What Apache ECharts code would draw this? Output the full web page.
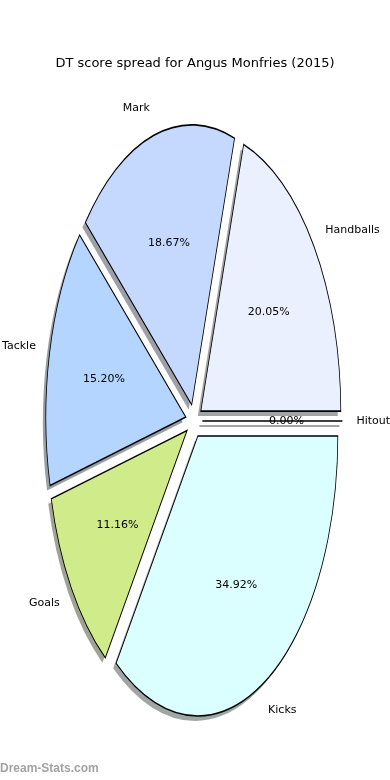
<!DOCTYPE html>
<html>
<head>
<meta charset="utf-8">
<script src="https://cdn.jsdelivr.net/npm/echarts@6/dist/echarts.min.js"></script>
<style>
html,body{margin:0;padding:0;background:#fff;}
#chart{width:390px;height:780px;}
</style>
</head>
<body>
<div id="chart"></div>
<script>
// ---- data ----
const titleText = 'DT score spread for Angus Monfries (2015)';
const categories = ['Handballs', 'Mark', 'Tackle', 'Goals', 'Kicks', 'Hitout'];
const values = [20.05, 18.67, 15.20, 11.16, 34.92, 0.00];
const colors = ['#ebf0ff', '#c5d9ff', '#b3d5ff', '#d0eb8a', '#dbffff', '#f5f5f5'];
const watermark = 'Dream-Stats.com';

// ---- layout ----
const CX = 194, CY = 421, RX = 140, RY = 280;
const EXPLODE = 0.06, LABEL_DIST = 1.1, PCT_DIST = 0.6;
const SHADOW_DX = -3, SHADOW_DY = 5;
const FONT = '11px "DejaVu Sans"';

const total = values.reduce((a, b) => a + b, 0);
function angles(i) {
  let before = 0;
  for (let k = 0; k < i; k++) before += values[k];
  const a1 = before / total * Math.PI * 2;
  const a2 = (before + values[i]) / total * Math.PI * 2;
  return [a1, a2, (a1 + a2) / 2];
}
function hexToRgb(h) {
  const n = parseInt(h.slice(1), 16);
  return [(n >> 16) & 255, (n >> 8) & 255, n & 255];
}
function shadowColor(h) {
  const c = hexToRgb(h).map(v => Math.round(v * 0.3));
  return 'rgba(' + c.join(',') + ',0.5)';
}
function center(mid) {
  return [CX + EXPLODE * RX * Math.cos(mid), CY - EXPLODE * RY * Math.sin(mid)];
}

const chart = echarts.init(document.getElementById('chart'), null, {renderer: 'canvas'});
chart.setOption({
  backgroundColor: '#fff',
  animation: false,
  title: [{
    text: titleText, left: 'center', top: 52,
    textStyle: {fontFamily: 'DejaVu Sans', fontSize: 13, fontWeight: 'normal', color: '#000'}
  }, {
    text: watermark, left: -5, top: 758,
    textStyle: {fontFamily: 'Liberation Sans', fontSize: 12, fontWeight: 'bold', color: '#a3a3a3'}
  }],
  series: [{
    type: 'custom', coordinateSystem: 'none', z: 1, silent: true,
    data: values,
    renderItem: function (params) {
      const i = params.dataIndex;
      const [a1, a2, mid] = angles(i);
      const [ex, ey] = center(mid);
      return {
        type: 'sector',
        x: ex + SHADOW_DX, y: ey + SHADOW_DY, scaleY: RY / RX,
        shape: {cx: 0, cy: 0, r: RX, r0: 0, startAngle: -a2, endAngle: -a1, clockwise: true},
        style: {fill: shadowColor(colors[i]), stroke: values[i] === 0 ? shadowColor(colors[i]) : null, lineWidth: 1, strokeNoScale: true}
      };
    }
  }, {
    type: 'custom', coordinateSystem: 'none', z: 2, silent: true,
    data: values,
    renderItem: function (params) {
      const i = params.dataIndex;
      const [a1, a2, mid] = angles(i);
      const [ex, ey] = center(mid);
      const lx = ex + LABEL_DIST * RX * Math.cos(mid);
      const ly = ey - LABEL_DIST * RY * Math.sin(mid);
      const px = ex + PCT_DIST * RX * Math.cos(mid);
      const py = ey - PCT_DIST * RY * Math.sin(mid);
      const pct = (values[i] / total * 100).toFixed(2) + '%';
      return {
        type: 'group',
        children: [{
          type: 'sector', z2: 1,
          x: ex, y: ey, scaleY: RY / RX,
          shape: {cx: 0, cy: 0, r: RX, r0: 0, startAngle: -a2, endAngle: -a1, clockwise: true},
          style: {fill: colors[i], stroke: '#000', lineWidth: 0.8, strokeNoScale: true}
        }, {
          type: 'text', z2: 5, x: lx, y: ly,
          style: {text: categories[i], font: FONT, fill: '#000',
                  align: Math.cos(mid) > 0 ? 'left' : 'right', verticalAlign: 'middle'}
        }, {
          type: 'text', z2: 5, x: px, y: py,
          style: {text: pct, font: FONT, fill: '#000', align: 'center', verticalAlign: 'middle'}
        }]
      };
    }
  }]
});
</script>
</body>
</html>
